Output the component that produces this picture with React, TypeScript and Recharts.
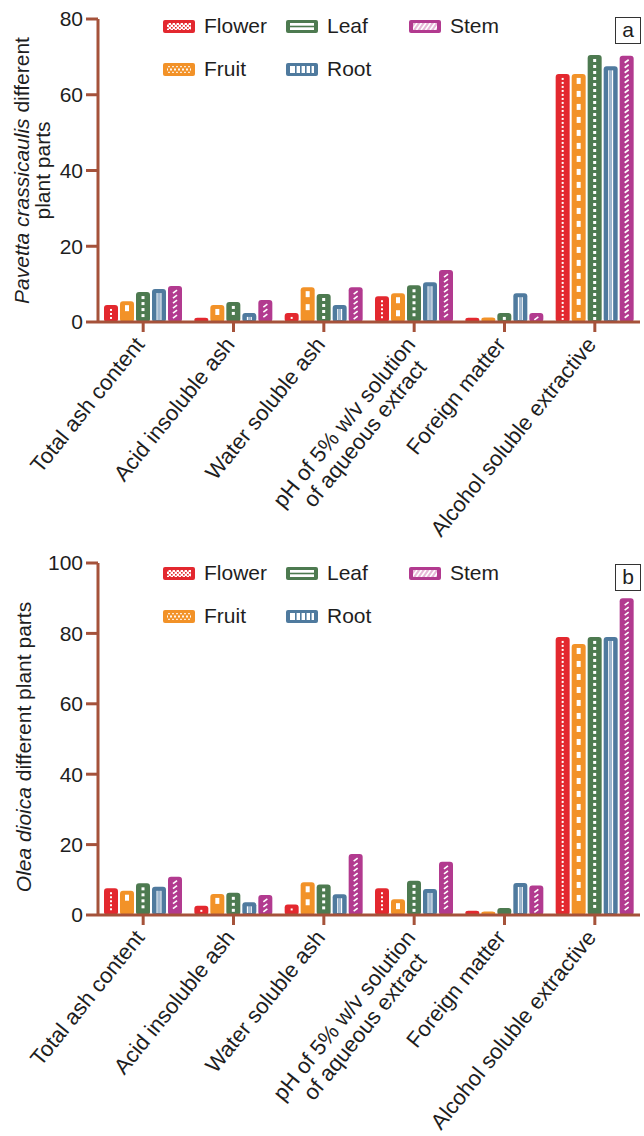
import React from "react";
import { BarChart, Bar, XAxis, YAxis, Legend } from "recharts";

const CATEGORIES = [
  "Total ash content",
  "Acid insoluble ash",
  "Water soluble ash",
  "pH of 5% w/v solution\nof aqueous extract",
  "Foreign matter",
  "Alcohol soluble extractive",
];

// panel a: Pavetta crassicaulis
const PAVETTA_FLOWER = [4.5, 1.1, 2.4, 6.8, 1.1, 65.5];
const PAVETTA_FRUIT = [5.5, 4.5, 9.2, 7.6, 1.2, 65.5];
const PAVETTA_LEAF = [7.9, 5.3, 7.4, 9.7, 2.4, 70.5];
const PAVETTA_ROOT = [8.7, 2.4, 4.5, 10.5, 7.6, 67.5];
const PAVETTA_STEM = [9.5, 5.8, 9.2, 13.7, 2.4, 70.3];
const PAVETTA_TICKS = [0, 20, 40, 60, 80];

// panel b: Olea dioica
const OLEA_FLOWER = [7.6, 2.6, 3.0, 7.6, 1.2, 79];
const OLEA_FRUIT = [6.9, 6.0, 9.3, 4.5, 1.0, 77];
const OLEA_LEAF = [9.0, 6.3, 8.7, 9.7, 2.0, 79];
const OLEA_ROOT = [8.0, 3.6, 5.9, 7.4, 9.1, 79];
const OLEA_STEM = [10.9, 5.7, 17.3, 15.1, 8.4, 90];
const OLEA_TICKS = [0, 20, 40, 60, 80, 100];

const SERIES = [
  { key: "flower", name: "Flower", color: "#e3282f" },
  { key: "fruit", name: "Fruit", color: "#f29228" },
  { key: "leaf", name: "Leaf", color: "#4d7a50" },
  { key: "root", name: "Root", color: "#4f7a9e" },
  { key: "stem", name: "Stem", color: "#b23a8f" },
];

const BROWN = "#a5523a";
const FONT = "Arial, 'Liberation Sans', Helvetica, sans-serif";
const TEXT = "#1e1e1e";

const buildData = (f: number[], fr: number[], l: number[], r: number[], s: number[]) =>
  CATEGORIES.map((name, i) => ({ name, flower: f[i], fruit: fr[i], leaf: l[i], root: r[i], stem: s[i] }));

const pavettaData = buildData(PAVETTA_FLOWER, PAVETTA_FRUIT, PAVETTA_LEAF, PAVETTA_ROOT, PAVETTA_STEM);
const oleaData = buildData(OLEA_FLOWER, OLEA_FRUIT, OLEA_LEAF, OLEA_ROOT, OLEA_STEM);

// bar with white pattern inside, one style per plant part
const PatternBar = (props: any) => {
  const { x, y, width, height, fill, kind } = props;
  if (!height || height <= 0) return null;
  const cx = x + width / 2;
  const top = y + 4;
  const bottom = y + height - 2;
  const marks: React.ReactNode[] = [];
  if (kind === "flower") {
    for (let yy = top; yy + 2 <= bottom; yy += 4)
      marks.push(<rect key={yy} x={cx - 1} y={yy} width={2} height={2} fill="#fff" />);
  } else if (kind === "fruit") {
    for (let yy = top; yy + 6 <= bottom; yy += 13)
      marks.push(<rect key={yy} x={cx - 2} y={yy} width={4} height={6} fill="#fff" />);
  } else if (kind === "leaf") {
    for (let yy = top; yy + 3 <= bottom; yy += 6)
      marks.push(<rect key={yy} x={cx - 1.5} y={yy} width={3} height={3} fill="#fff" />);
  } else if (kind === "root") {
    if (bottom - top > 2) {
      marks.push(<rect key="a" x={cx - 2.5} y={top} width={1.2} height={bottom - top} fill="#fff" />);
      marks.push(<rect key="b" x={cx + 1.3} y={top} width={1.2} height={bottom - top} fill="#fff" />);
      marks.push(<rect key="c" x={cx - 1.3} y={top} width={2.6} height={bottom - top} fill="#9fb7cf" />);
    }
  } else if (kind === "stem") {
    for (let yy = top + 3; yy <= bottom; yy += 5)
      marks.push(
        <line key={yy} x1={cx - 2} y1={yy} x2={cx + 2} y2={yy - 3} stroke="#fff" strokeWidth={1.6} />
      );
  }
  return (
    <g>
      <rect x={x} y={y} width={width} height={height} rx={3} ry={3} fill={fill} />
      {marks}
    </g>
  );
};

const Swatch = ({ kind, color }: { kind: string; color: string }) => {
  const inner: React.ReactNode[] = [];
  if (kind === "flower") {
    inner.push(<rect key="bg" x={5} y={4} width={24} height={7} fill="#fff" />);
    for (let i = 0; i < 12; i++)
      for (let j = 0; j < 4; j++)
        if ((i + j) % 2 === 0) inner.push(<rect key={`${i}-${j}`} x={5 + i * 2} y={4 + j * 2} width={1.6} height={1.6} fill={color} />);
  } else if (kind === "fruit") {
    inner.push(<rect key="bg" x={5} y={4} width={24} height={7} fill="#fff" />);
    inner.push(<polyline key="z1" points="5,4 9,11 13,4 17,11 21,4 25,11 29,4" fill="none" stroke={color} strokeWidth={1.6} />);
    inner.push(<polyline key="z2" points="5,11 9,4 13,11 17,4 21,11 25,4 29,11" fill="none" stroke={color} strokeWidth={1.6} />);
  } else if (kind === "leaf") {
    inner.push(<rect key="bg" x={5} y={4} width={24} height={7} fill="#fff" />);
    inner.push(<rect key="l" x={4} y={6.7} width={26} height={1.6} fill={color} />);
  } else if (kind === "root") {
    inner.push(<rect key="bg" x={5} y={4} width={24} height={7} fill="#fff" />);
    for (let i = 0; i < 4; i++) inner.push(<rect key={i} x={10 + i * 5} y={4} width={1.6} height={7} fill={color} />);
  } else if (kind === "stem") {
    inner.push(<rect key="bg" x={5} y={4} width={24} height={7} fill="#e7b8d8" />);
    for (let i = 0; i < 6; i++)
      inner.push(<line key={i} x1={4 + i * 4.5} y1={11} x2={9 + i * 4.5} y2={4} stroke="#fff" strokeWidth={1.6} />);
  }
  return (
    <svg width={34} height={15} style={{ display: "block" }}>
      <rect x={1} y={1} width={32} height={13} rx={2} fill={color} />
      <svg x={0} y={0} width={34} height={15}>
        <clipPath id={`sw-${kind}`}>
          <rect x={5} y={4} width={24} height={7} />
        </clipPath>
        <g clipPath={`url(#sw-${kind})`}>{inner}</g>
      </svg>
    </svg>
  );
};

const LEGEND_SLOTS: Record<string, [number, number]> = {
  Flower: [162, 0],
  Leaf: [285, 0],
  Stem: [408, 0],
  Fruit: [162, 43],
  Root: [285, 43],
};

const LegendBox = ({ top, letter }: { top: number; letter: string }) => (
  <div style={{ position: "relative", width: 644, height: 100, fontFamily: FONT }}>
    {SERIES.map((s) => {
      const [lx, ly] = LEGEND_SLOTS[s.name];
      return (
        <div
          key={s.key}
          style={{ position: "absolute", left: lx, top: top + ly, display: "flex", alignItems: "center", height: 16 }}
        >
          <Swatch kind={s.key} color={s.color} />
          <span style={{ marginLeft: 8, fontSize: 21, color: TEXT, lineHeight: "16px" }}>{s.name}</span>
        </div>
      );
    })}
    <div
      style={{
        position: "absolute",
        left: 615,
        top: top - 1,
        width: 24,
        height: 25,
        border: "1.5px solid #333",
        fontSize: 21,
        lineHeight: "24px",
        textAlign: "center",
        color: TEXT,
      }}
    >
      {letter}
    </div>
  </div>
);

const XTick = (props: any) => {
  const { x, y, payload } = props;
  const lines = String(payload.value).split("\n");
  return (
    <g transform={`translate(${x - 10},${y + 1})`}>
      <text transform="rotate(-51)" textAnchor="end" fill={TEXT} fontSize={22} fontFamily={FONT}>
        {lines.map((l, i) => (
          <tspan key={i} x={i === 0 ? 0 : -11} dy={i === 0 ? "0.72em" : "1.05em"}>
            {l}
          </tspan>
        ))}
      </text>
    </g>
  );
};

const PavettaLabel = (props: any) => {
  const vb = props.viewBox || { y: 0, height: 0 };
  const cy = vb.y + vb.height / 2;
  return (
    <text transform={`translate(0,${cy}) rotate(-90)`} textAnchor="middle" fontSize={21} fill={TEXT} fontFamily={FONT}>
      <tspan x={0} y={29}>
        <tspan fontStyle="italic">Pavetta crassicaulis</tspan> different
      </tspan>
      <tspan x={0} y={50}>plant parts</tspan>
    </text>
  );
};

const OleaLabel = (props: any) => {
  const vb = props.viewBox || { y: 0, height: 0 };
  const cy = vb.y + vb.height / 2 + 8;
  return (
    <text transform={`translate(0,${cy}) rotate(-90)`} textAnchor="middle" fontSize={21} fill={TEXT} fontFamily={FONT}>
      <tspan x={0} y={31}>
        <tspan fontStyle="italic">Olea dioica</tspan> different plant parts
      </tspan>
    </text>
  );
};

type PanelProps = {
  data: any[];
  height: number;
  top: number;
  xHeight: number;
  max: number;
  ticks: number[];
  letter: string;
  yLabel: (p: any) => React.ReactNode;
  legendTop: number;
};

const Panel = ({ data, height, top, xHeight, max, ticks, letter, yLabel, legendTop }: PanelProps) => (
  <BarChart
    width={644}
    height={height}
    data={data}
    margin={{ top, right: 4, left: 0, bottom: 0 }}
    barCategoryGap={6}
    barGap={2}
  >
    <XAxis
      dataKey="name"
      height={xHeight}
      interval={0}
      tick={<XTick />}
      axisLine={{ stroke: BROWN, strokeWidth: 3 }}
      tickLine={{ stroke: BROWN, strokeWidth: 3 }}
      tickSize={10}
    />
    <YAxis
      domain={[0, max]}
      ticks={ticks}
      interval={0}
      width={98}
      axisLine={{ stroke: BROWN, strokeWidth: 3 }}
      tickLine={{ stroke: BROWN, strokeWidth: 3 }}
      tickSize={12}
      tickMargin={3}
      tick={{ fill: TEXT, fontSize: 21, fontFamily: FONT }}
      label={{ content: yLabel }}
    />
    <Legend
      layout="horizontal"
      verticalAlign="middle"
      align="center"
      wrapperStyle={{ top: 0, left: 0, width: 644, height: 100 }}
      content={() => <LegendBox top={legendTop} letter={letter} />}
    />
    {SERIES.map((s) => (
      <Bar
        key={s.key}
        dataKey={s.key}
        name={s.name}
        fill={s.color}
        isAnimationActive={false}
        shape={(p: any) => <PatternBar {...p} kind={s.key} />}
      />
    ))}
  </BarChart>
);

export default function App() {
  return (
    <div style={{ position: "absolute", left: 0, top: 0, width: 644, height: 1136, background: "#fff" }}>
      <Panel
        data={pavettaData}
        height={545}
        top={19}
        xHeight={223}
        max={80}
        ticks={PAVETTA_TICKS}
        letter="a"
        yLabel={PavettaLabel}
        legendTop={18}
      />
      <Panel
        data={oleaData}
        height={591}
        top={18}
        xHeight={221}
        max={100}
        ticks={OLEA_TICKS}
        letter="b"
        yLabel={OleaLabel}
        legendTop={20}
      />
    </div>
  );
}
